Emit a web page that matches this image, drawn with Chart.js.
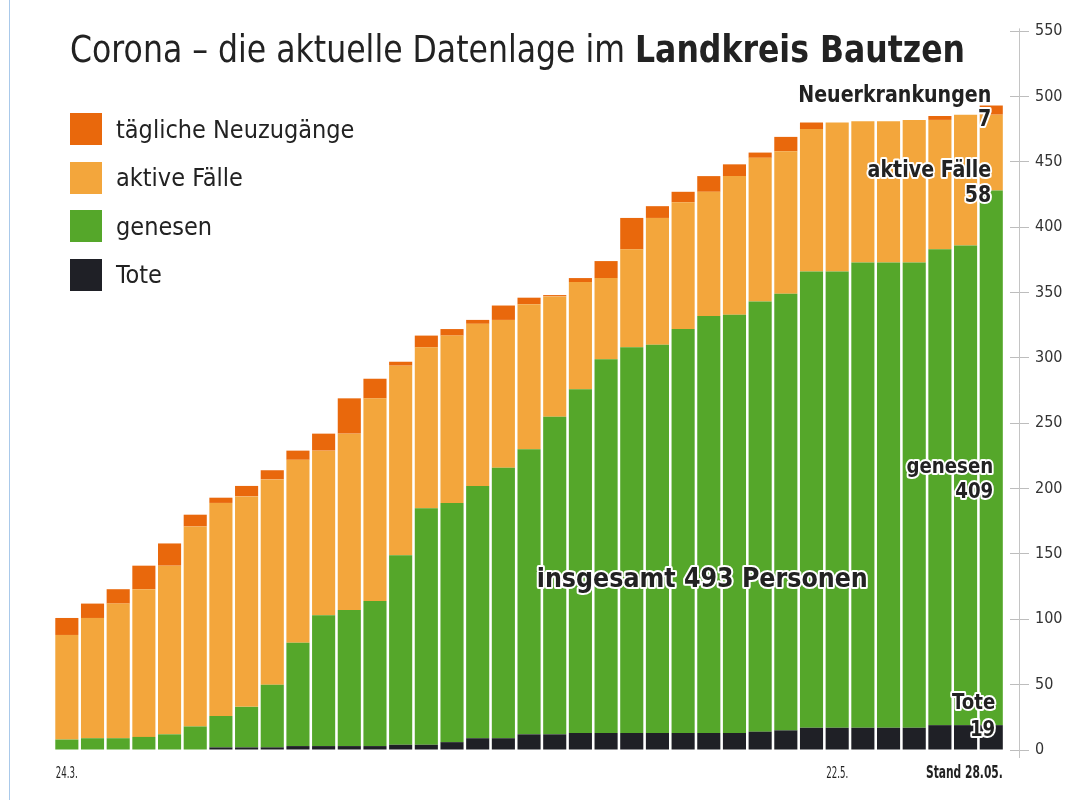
<!DOCTYPE html>
<html>
<head>
<meta charset="utf-8">
<script src="https://cdn.jsdelivr.net/npm/chart.js@4.4.1/dist/chart.umd.min.js"></script>
<style>
html, body { margin: 0; padding: 0; background: #fff; }
#wrap { position: relative; width: 1074px; height: 800px; overflow: hidden; }
#edge { position: absolute; left: 9px; top: 0; width: 1px; height: 800px; background: #a9c9ea; }
#title { position: absolute; left: 70px; top: 28px; white-space: nowrap; color: #222;
    font-family: "DejaVu Sans"; font-size: 37px; line-height: 44px; transform-origin: 0 0; }
#title b { font-weight: bold; }
#legend { position: absolute; left: 70px; top: 113px; }
.item { display: flex; align-items: center; height: 32px; margin-bottom: 16.5px; }
.box { width: 32px; height: 32px; margin-right: 14px; }
.lbl { font-family: "DejaVu Sans Condensed", "DejaVu Sans"; font-size: 25px; color: #222; }
canvas { position: absolute; left: 0; top: 0; }
</style>
</head>
<body>
<div id="wrap">
    <canvas id="chart" width="1074" height="800"></canvas>
    <div id="edge"></div>
    <div id="title">Corona – die aktuelle Datenlage im <b>Landkreis Bautzen</b></div>
    <div id="legend"></div>
</div>
<script>
"use strict"

// values per report day (stack: Tote, genesen, aktive, neu)
var tote    = [0,0,0,0,0,0,2,2,2,3,3,3,3,4,4,6,9,9,12,12,13,13,13,13,13,13,13,14,15,17,17,17,17,17,19,19,19];
var genesen = [8,9,9,10,12,18,24,31,48,79,100,104,111,145,181,183,193,207,218,243,263,286,295,297,309,319,320,329,334,349,349,356,356,356,364,367,409];
var aktive  = [80,92,103,113,129,153,163,161,157,140,126,135,155,145,123,128,124,113,111,92,82,62,75,97,97,95,106,110,109,109,114,108,108,109,99,100,58];
var neu     = [13,11,11,18,17,9,4,8,7,7,13,27,15,3,9,5,3,11,5,1,3,13,24,9,8,12,9,4,11,5,0,0,0,0,3,0,7];

var tickPos  = [0, 30, 36];
var tickText = ["24.3.", "22.5.", "Stand 28.05."];

var seriesNames  = ["Tote", "genesen", "aktive Fälle", "tägliche Neuzugänge"];
var seriesValues = [tote, genesen, aktive, neu];
var seriesColors = ["#1f2026", "#55a72a", "#f3a63c", "#e9680c"];

var FONT = '"DejaVu Sans Condensed", "DejaVu Sans", sans-serif';
var last = tote.length - 1;

function total(i){
    return tote[i] + genesen[i] + aktive[i] + neu[i];
}

function makeDatasets(){
    var arr = [];
    for (var s in seriesValues){
        arr.push({
            label: seriesNames[s],
            data: seriesValues[s].map(function(v, i){ return {x: i, y: v}; }),
            backgroundColor: seriesColors[s],
            borderWidth: 0,
            barPercentage: 0.9,
            categoryPercentage: 1
        });
    }
    return arr;
}

// label texts placed next to the last bar, y given on the value axis
var notes = [
    {text: "Neuerkrankungen",         at: 496, dx: 0, size: 23},
    {text: String(neu[last]),         at: 477, dx: 0, size: 23},
    {text: "aktive Fälle",            at: 438, dx: 0, size: 23},
    {text: String(aktive[last]),      at: 419, dx: 0, size: 23},
    {text: "genesen",                 at: 212, dx: 2, size: 22},
    {text: String(genesen[last]),     at: 193, dx: 2, size: 22},
    {text: "Tote",                    at: 31,  dx: 4, size: 22},
    {text: String(tote[last]),        at: 11,  dx: 4, size: 22}
];

function drawText(ctx, str, x, y, font, align, sx, stroke){
    ctx.save();
    ctx.translate(x, y);
    ctx.scale(sx, 1);
    ctx.font = font;
    ctx.textAlign = align;
    ctx.textBaseline = "alphabetic";
    if (stroke){
        ctx.lineJoin = "round";
        ctx.lineWidth = 4;
        ctx.strokeStyle = "#fff";
        ctx.strokeText(str, 0, 0);
    }
    ctx.fillStyle = "#222";
    ctx.fillText(str, 0, 0);
    ctx.restore();
}

var extras = {
    id: "extras",
    afterDraw: function(chart){
        var ctx = chart.ctx;
        var x = chart.scales.x;
        var y = chart.scales.y;

        // axis line
        ctx.save();
        ctx.strokeStyle = "#c4c4c4";
        ctx.lineWidth = 1;
        ctx.beginPath();
        ctx.moveTo(chart.chartArea.right + 9.5, y.getPixelForValue(552));
        ctx.lineTo(chart.chartArea.right + 9.5, y.getPixelForValue(0) + 8);
        ctx.stroke();
        ctx.restore();

        // date labels
        var half = (x.getPixelForValue(1) - x.getPixelForValue(0)) * 0.45;
        for (var i in tickPos){
            var px = x.getPixelForValue(tickPos[i]);
            if (i == tickPos.length - 1){
                drawText(ctx, tickText[i], px + half, 778, "bold 18px " + FONT, "right", 0.66, false);
            } else {
                drawText(ctx, tickText[i], px, 778, "16px " + FONT, "center", 0.6, false);
            }
        }

        // notes at the last bar
        var ax = x.getPixelForValue(last);
        for (var n in notes){
            drawText(ctx, notes[n].text, ax + notes[n].dx, y.getPixelForValue(notes[n].at),
                "bold " + notes[n].size + "px " + FONT, "right", 0.92, true);
        }

        drawText(ctx, "insgesamt " + total(last) + " Personen", x.getPixelForValue(18.3),
            y.getPixelForValue(125), "bold 27px " + FONT, "left", 0.98, true);
    }
};

var chart = new Chart(document.getElementById("chart"), {
    type: "bar",
    data: { datasets: makeDatasets() },
    options: {
        responsive: false,
        animation: false,
        layout: { padding: { left: 54, top: 31, right: 0, bottom: 0 } },
        plugins: { legend: { display: false }, tooltip: { enabled: false } },
        scales: {
            x: {
                type: "linear", stacked: true, offset: false,
                min: -0.5, max: 36.73,
                grid: { display: false }, border: { display: false },
                ticks: { display: false },
                afterFit: function(s){ s.height = 50; }
            },
            y: {
                position: "right", stacked: true, min: 0, max: 550,
                ticks: { stepSize: 50, padding: 6, color: "#333", font: { family: FONT, size: 16 } },
                grid: { drawOnChartArea: false, tickLength: 19, color: "#bdbdbd" },
                border: { display: false },
                afterFit: function(s){ s.width = 64; }
            }
        }
    },
    plugins: [extras]
});

// legend, top item first
var cont = document.getElementById("legend");
for (var i = seriesNames.length - 1; i >= 0; i--){
    var row = document.createElement("div");
    row.className = "item";
    var box = document.createElement("div");
    box.className = "box";
    box.style.backgroundColor = seriesColors[i];
    var lbl = document.createElement("span");
    lbl.className = "lbl";
    lbl.textContent = seriesNames[i];
    row.appendChild(box);
    row.appendChild(lbl);
    cont.appendChild(row);
}

// squeeze the title to the width it has in the original
var title = document.getElementById("title");
var w = title.getBoundingClientRect().width;
title.style.transform = "scaleX(" + (895 / w) + ")";
</script>
</body>
</html>
